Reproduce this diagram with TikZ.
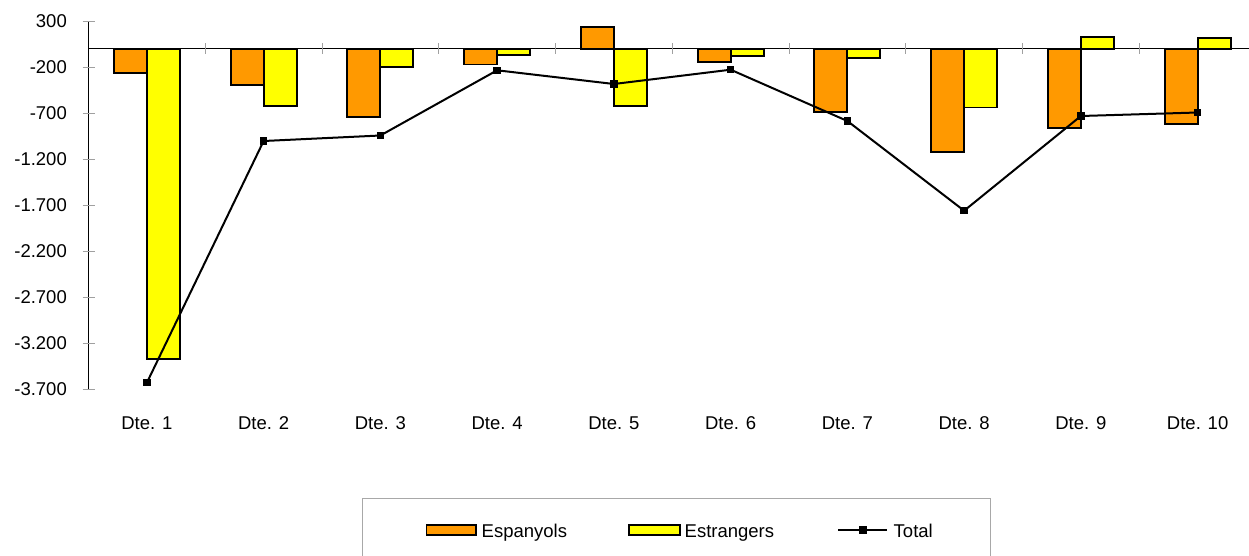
\documentclass[tikz,border=0pt]{standalone}
\usepackage{fontspec}
\setmainfont{Liberation Sans}
\definecolor{espc}{HTML}{FF9900}
\definecolor{estc}{HTML}{FFFF00}
\definecolor{tickc}{HTML}{A0A0A0}
\definecolor{legc}{HTML}{A8A8A8}
\begin{document}
\begin{tikzpicture}[x=1pt,y=-1pt,
  esp/.style={draw=black,fill=espc,line width=1.8pt},
  est/.style={draw=black,fill=estc,line width=1.8pt},
  tot/.style={draw=black,line width=2pt},
  mk/.style={rectangle,fill=black,draw=none,minimum size=7.5pt,inner sep=0pt},
  tk/.style={draw=tickc,line width=1pt},
  lab/.style={font=\fontsize{18.5}{20}\selectfont,inner sep=0pt}]
\useasboundingbox (0,0) rectangle (1249,555);
\clip (0,0) rectangle (1249,555);
% bars
\foreach \i/\e/\s/\t in {1/73/359.3/382.7, 2/85/106/141, 3/117/67/135.5, 4/64.5/55/70.3,
  5/27/106/84, 6/62/56/69.7, 7/112/58/121, 8/151.7/107.5/210.7, 9/128/37/116, 10/124/38/112.5}{
  \pgfmathsetmacro\c{88.5+116.75*(\i-0.5)}
  \draw[esp] (\c-33,48.6) rectangle (\c,\e);
  \draw[est] (\c,48.6) rectangle (\c+33,\s);
  \node[lab,anchor=base] (d\i) at (\c,429.7) {Dte. \i};
  \coordinate (t\i) at (\c,\t);
}
% axes
\draw[black,line width=1.2pt] (88.5,48.6) -- (1249,48.6);
\draw[black,line width=1.4pt] (88.5,21) -- (88.5,389);
\foreach \k in {1,...,9}{
  \draw[tk] (88.5+116.75*\k,43) -- (88.5+116.75*\k,54);
}
\foreach \k/\v in {0/300,1/-200,2/-700,3/-1.200,4/-1.700,5/-2.200,6/-2.700,7/-3.200,8/-3.700}{
  \draw[tk] (82.7,21+46*\k) -- (94.7,21+46*\k);
  \node[lab,anchor=base east] (y\k) at (67,21+46*\k+6.8) {\v};
}
% total line
\draw[tot] (t1) -- (t2) -- (t3) -- (t4) -- (t5) -- (t6) -- (t7) -- (t8) -- (t9) -- (t10);
\foreach \i in {1,...,10}{ \node[mk] (m\i) at (t\i) {}; }
% legend
\draw[legc,line width=1pt] (362.5,498) rectangle (990,570);
\draw[esp,line width=1.6pt] (426.5,525) rectangle (476,535);
\node[lab,anchor=base west] (le) at (481.5,537) {Espanyols};
\draw[est,line width=1.6pt] (629,525) rectangle (680,535);
\node[lab,anchor=base west] (ls) at (684.5,537) {Estrangers};
\coordinate (la) at (838,530);
\coordinate (lb) at (887,530);
\draw[tot] (la) -- (lb);
\node[mk] (lm) at (863,530) {};
\node[lab,anchor=base west] (lt) at (893.5,537) {Total};
\end{tikzpicture}
\end{document}
